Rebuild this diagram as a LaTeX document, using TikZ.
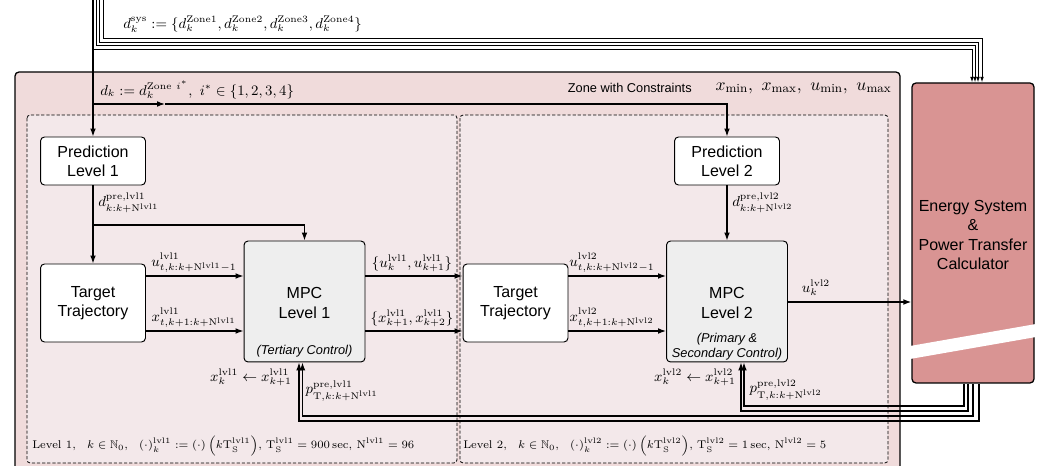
\documentclass[tikz,border=0pt]{standalone}
\usepackage{amsmath,amssymb}
\usepackage{fontspec}
\newfontfamily\hv{Liberation Sans}
\usetikzlibrary{arrows.meta}
\definecolor{zonepink}{RGB}{240,219,219}
\definecolor{lvlpink}{RGB}{243,232,234}
\definecolor{energyred}{RGB}{217,148,147}
\definecolor{mpcgray}{RGB}{238,238,238}
\begin{document}
\begin{tikzpicture}[x=0.625pt,y=-0.625pt,
  box/.style={draw, line width=0.6pt, rounded corners=2.5pt, fill=white, inner sep=0pt, font=\hv, align=center},
  txt/.style={font=\hv, align=center, inner sep=0pt},
  ctl/.style={font=\hv\itshape\footnotesize, align=center, inner sep=0pt},
  conn/.style={line width=0.8pt, -{Latex[length=5pt,width=3.6pt]}},
  plain/.style={line width=0.8pt},
  quad/.style={line width=0.6pt, -{Latex[length=3.5pt,width=2.4pt]}},
  feed/.style={line width=0.8pt, -{Latex[length=5pt,width=3.6pt]}},
  lbl/.style={inner sep=0pt, font=\small},
  lvlbox/.style={draw, fill=lvlpink, line width=0.5pt, dash pattern=on 2pt off 1.2pt, rounded corners=2pt},
]
\useasboundingbox (0,0) rectangle (1038,466);
\clip (0,0) rectangle (1038,466);
\fill[white] (0,0) rectangle (1038,466);

% outer zone
\draw[fill=zonepink, line width=0.8pt, rounded corners=2.5pt] (15,72) rectangle (900,500);
\draw[lvlbox] (27,115) rectangle (457,463);
\draw[lvlbox] (460,115) rectangle (888,463);

% nodes
\node[box, minimum width=65.6pt, minimum height=30pt] (P1) at (93,161) {Prediction\\Level 1};
\node[box, minimum width=65.6pt, minimum height=48.75pt] (T1) at (93,303) {Target\\Trajectory};
\node[box, fill=mpcgray, minimum width=75.6pt, minimum height=75.6pt] (M1) at (304.5,301.5) {};
\node[txt] (M1t) at (304.5,303) {MPC\\Level 1};
\node[ctl] (M1c) at (304.5,351) {(Tertiary Control)};

\node[box, minimum width=65.6pt, minimum height=30pt] (P2) at (727,161) {Prediction\\Level 2};
\node[box, minimum width=65.6pt, minimum height=48.75pt] (T2) at (515.5,303) {Target\\Trajectory};
\node[box, fill=mpcgray, minimum width=75.6pt, minimum height=75.6pt] (M2) at (727,301.5) {};
\node[txt] (M2t) at (727,303) {MPC\\Level 2};
\node[ctl] (M2c) at (727,347) {(Primary \&\\Secondary Control)};

\node[draw, line width=0.8pt, rounded corners=2.5pt, fill=energyred, minimum width=76.25pt, minimum height=187.5pt, inner sep=0pt] (E) at (973,233) {};
\node[txt] (Et) at (973,235) {Energy System\\\&\\Power Transfer\\Calculator};
\fill[white] (910,346) -- (1036,324) -- (1036,337) -- (910,359) -- cycle;

% helper coordinates
\coordinate (z1) at (93,0);
\coordinate (z2) at (96,0);
\coordinate (z3) at (99,0);
\coordinate (z4) at (103,0);
\coordinate (e1) at (972,49);
\coordinate (e2) at (975,45);
\coordinate (e3) at (978,42);
\coordinate (e4) at (982,38);
\coordinate (dk) at (93,104);
\coordinate (dkm) at (165,104);
\coordinate (pb) at (93,225);
\coordinate (yu) at (0,276);
\coordinate (yx) at (0,331);
\coordinate (yo) at (0,302);
\coordinate (b1) at (964,406);
\coordinate (b2) at (968,411);
\coordinate (b3) at (973,416);
\coordinate (b4) at (979,421);
\coordinate (m2a) at (744,406);
\coordinate (m2b) at (741,411);
\coordinate (m1a) at (302.5,416);
\coordinate (m1b) at (299,421);

% top quadruple lines
\draw[quad] (z4) |- (e4) -- (e4 |- E.north);
\draw[quad] (z3) |- (e3) -- (e3 |- E.north);
\draw[quad] (z2) |- (e2) -- (e2 |- E.north);
\draw[plain, line width=0.6pt] (z1) |- (e1);
\draw[quad] (e1) -- (e1 |- E.north);
\draw[conn] (z1) -- (P1.north);
\draw[conn] (dk) -- (dkm);
\draw[conn] (dkm) -| (P2.north);

% level 1
\draw[conn] (P1.south) -- (T1.north);
\draw[conn] (pb) -| (M1.north);
\draw[conn] (T1.east |- yu) -- (M1.west |- yu);
\draw[conn] (T1.east |- yx) -- (M1.west |- yx);
\draw[conn] (M1.east |- yu) -- (T2.west |- yu);
\draw[conn] (M1.east |- yx) -- (T2.west |- yx);

% level 2
\draw[conn] (P2.south) -- (M2.north);
\draw[conn] (T2.east |- yu) -- (M2.west |- yu);
\draw[conn] (T2.east |- yx) -- (M2.west |- yx);
\draw[conn] (M2.east |- yo) -- (E.west |- yo);

% feedback lines
\draw[feed] (E.south -| b1) -- (b1) -- (m2a) -- (m2a |- M2.south);
\draw[feed] (E.south -| b2) -- (b2) -- (m2b) -- (m2b |- M2.south);
\draw[feed] (E.south -| b3) -- (b3) -- (m1a) -- (m1a |- M1.south);
\draw[feed] (E.south -| b4) -- (b4) -- (m1b) -- (m1b |- M1.south);

% labels
\node[lbl, anchor=west] (Lsys) at (123,24) {$d_k^{\mathrm{sys}} := \{d_k^{\mathrm{Zone1}}, d_k^{\mathrm{Zone2}}, d_k^{\mathrm{Zone3}}, d_k^{\mathrm{Zone4}}\}$};
\node[lbl, anchor=west] (Ldk) at (100,90) {$d_k := d_k^{\mathrm{Zone}\ i^*},\ i^* \in \{1,2,3,4\}$};
\node[lbl, anchor=east, font=\hv\footnotesize] (Lzone) at (692,88) {Zone with Constraints};
\node[lbl, anchor=east, font=\fontsize{11}{13}\selectfont] (Lcon) at (892,88) {$x_{\min},\ x_{\max},\ u_{\min},\ u_{\max}$};

\node[lbl, anchor=west] (Ld1) at (98,203) {$d^{\mathrm{pre,lvl1}}_{k:k+\mathrm{N}^{\mathrm{lvl1}}}$};
\node[lbl, anchor=west] (Ld2) at (732,203) {$d^{\mathrm{pre,lvl2}}_{k:k+\mathrm{N}^{\mathrm{lvl2}}}$};

\node[lbl] (Lu1) at (194,263) {$u^{\mathrm{lvl1}}_{t,k:k+\mathrm{N}^{\mathrm{lvl1}}-1}$};
\node[lbl] (Lx1) at (194,318) {$x^{\mathrm{lvl1}}_{t,k+1:k+\mathrm{N}^{\mathrm{lvl1}}}$};
\node[lbl] (Lu1o) at (412,263) {$\{u_k^{\mathrm{lvl1}}, u_{k+1}^{\mathrm{lvl1}}\}$};
\node[lbl] (Lx1o) at (412,318) {$\{x_{k+1}^{\mathrm{lvl1}}, x_{k+2}^{\mathrm{lvl1}}\}$};
\node[lbl] (Lu2) at (612,263) {$u^{\mathrm{lvl2}}_{t,k:k+\mathrm{N}^{\mathrm{lvl2}}-1}$};
\node[lbl] (Lx2) at (612,318) {$x^{\mathrm{lvl2}}_{t,k+1:k+\mathrm{N}^{\mathrm{lvl2}}}$};
\node[lbl] (Lu2o) at (816,288) {$u_k^{\mathrm{lvl2}}$};

\node[lbl] (Lxs1) at (251,377) {$x_k^{\mathrm{lvl1}} \leftarrow x_{k+1}^{\mathrm{lvl1}}$};
\node[lbl] (Lp1) at (342,391) {$p^{\mathrm{pre,lvl1}}_{\mathrm{T},k:k+\mathrm{N}^{\mathrm{lvl1}}}$};
\node[lbl] (Lxs2) at (695,377) {$x_k^{\mathrm{lvl2}} \leftarrow x_{k+1}^{\mathrm{lvl2}}$};
\node[lbl] (Lp2) at (786,390) {$p^{\mathrm{pre,lvl2}}_{\mathrm{T},k:k+\mathrm{N}^{\mathrm{lvl2}}}$};

\node[lbl, anchor=west, font=\scriptsize] (Lb1) at (32,446) {Level 1,\quad $k\in\mathbb{N}_0$,\quad $(\cdot)_k^{\mathrm{lvl1}} := (\cdot)\left(k\mathrm{T}_\mathrm{S}^{\mathrm{lvl1}}\right)$, $\mathrm{T}_\mathrm{S}^{\mathrm{lvl1}} = 900\,\mathrm{sec}$, $\mathrm{N}^{\mathrm{lvl1}} = 96$};
\node[lbl, anchor=west, font=\scriptsize] (Lb2) at (463,446) {Level 2,\quad $k\in\mathbb{N}_0$,\quad $(\cdot)_k^{\mathrm{lvl2}} := (\cdot)\left(k\mathrm{T}_\mathrm{S}^{\mathrm{lvl2}}\right)$, $\mathrm{T}_\mathrm{S}^{\mathrm{lvl2}} = 1\,\mathrm{sec}$, $\mathrm{N}^{\mathrm{lvl2}} = 5$};
\end{tikzpicture}
\end{document}
